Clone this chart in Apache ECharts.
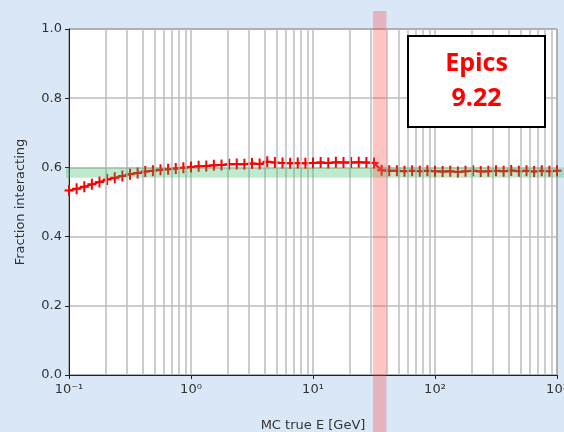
<!DOCTYPE html>
<html>
<head>
<meta charset="utf-8">
<script src="https://cdn.jsdelivr.net/npm/echarts@6/dist/echarts.min.js"></script>
<style>
  html, body { margin: 0; padding: 0; background: #d9e7f6; }
  #chart { width: 564px; height: 432px; }
</style>
</head>
<body>
<div id="chart"></div>
<script>
// energies (GeV), log-spaced bins
const energies = [
  0.1, 0.1155, 0.1334, 0.154, 0.1778, 0.2054, 0.2371, 0.2738, 0.3162, 0.3652, 0.4217, 0.487, 0.5623, 0.6494, 0.7499, 0.866,
  1, 1.155, 1.334, 1.54, 1.778, 2.054, 2.371, 2.738, 3.162, 3.652, 4.217, 4.87, 5.623, 6.494, 7.499, 8.66,
  10, 11.55, 13.34, 15.4, 17.78, 20.54, 23.71, 27.38, 31.62, 36.52, 42.17, 48.7, 56.23, 64.94, 74.99, 86.6,
  100, 115.5, 133.4, 154, 177.8, 205.4, 237.1, 273.8, 316.2, 365.2, 421.7, 487, 562.3, 649.4, 749.9, 866, 1000
];
// fraction interacting
const fractions = [
  0.533, 0.538, 0.544, 0.551, 0.558, 0.565, 0.570, 0.575, 0.580, 0.584, 0.588, 0.590, 0.593, 0.595, 0.597, 0.599,
  0.601, 0.603, 0.604, 0.606, 0.607, 0.609, 0.610, 0.609, 0.611, 0.610, 0.616, 0.614, 0.613, 0.612, 0.613, 0.612,
  0.613, 0.614, 0.613, 0.615, 0.614, 0.614, 0.615, 0.614, 0.613, 0.592, 0.590, 0.590, 0.589, 0.590, 0.589, 0.590,
  0.589, 0.588, 0.589, 0.587, 0.589, 0.590, 0.588, 0.589, 0.590, 0.589, 0.591, 0.589, 0.590, 0.588, 0.590, 0.589, 0.590
];
const xTickLabels = {0.1: '10⁻¹', 1: '10⁰', 10: '10¹', 100: '10²', 1000: '10³'};
const decades = [0.1, 1, 10, 100];
const minorSteps = [2, 3, 4, 5, 6, 7, 8, 9];
const greenBand = [0.57, 0.60];   // fraction range
const redBand = [31, 40];         // GeV range
const boxText = 'Epics\n9.22';

// minor log grid lines
let minorLines = [];
decades.forEach(function(d) {
  minorSteps.forEach(function(m) {
    minorLines.push({xAxis: +(d * m).toPrecision(3)});
  });
});

const fontFam = 'DejaVu Sans';
const gridColor = '#bdbdbd';
const plusSymbol = 'path://M-1,-5.5H1V5.5H-1ZM-4.5,-1H4.5V1H-4.5Z';

let myChart = echarts.init(document.getElementById('chart'));
let option = {
  backgroundColor: '#d9e7f6',
  animation: false,
  grid: {
    left: 69, right: 7, top: 29, bottom: 57,
    containLabel: false,
    outerBoundsMode: 'none',
    show: true, backgroundColor: '#ffffff', borderColor: '#222', borderWidth: 1
  },
  xAxis: {
    type: 'log',
    logBase: 10,
    min: 0.1,
    max: 1000,
    name: 'MC true E [GeV]',
    nameLocation: 'middle',
    nameGap: 44,
    nameTextStyle: {fontFamily: fontFam, fontSize: 13, color: '#333'},
    axisLine: {lineStyle: {color: '#222', width: 1}},
    axisTick: {show: true, length: 4, lineStyle: {color: '#222'}},
    axisLabel: {
      fontFamily: fontFam, fontSize: 13, color: '#333', margin: 8,
      formatter: function(v) { return xTickLabels[+v.toPrecision(3)] || ''; }
    },
    splitLine: {show: true, lineStyle: {color: gridColor, width: 1.5}}
  },
  yAxis: {
    type: 'value',
    min: 0,
    max: 1,
    interval: 0.2,
    name: 'Fraction interacting',
    nameLocation: 'middle',
    nameGap: 42,
    nameTextStyle: {fontFamily: fontFam, fontSize: 13, color: '#333'},
    axisLine: {show: true, lineStyle: {color: '#222', width: 1}},
    axisTick: {show: true, length: 4, lineStyle: {color: '#222'}},
    axisLabel: {
      fontFamily: fontFam, fontSize: 13, color: '#333', margin: 7,
      formatter: function(v) { return v.toFixed(1); }
    },
    splitLine: {show: true, lineStyle: {color: gridColor, width: 1.5}}
  },
  series: [
    {
      name: 'minor grid',
      type: 'line',
      data: [],
      z: 1,
      silent: true,
      markLine: {
        silent: true,
        symbol: 'none',
        label: {show: false},
        lineStyle: {color: gridColor, width: 1.5, type: 'solid'},
        data: minorLines
      }
    },
    {
      name: 'fraction',
      type: 'line',
      z: 3,
      data: energies.map(function(e, i) { return [e, fractions[i]]; }),
      showSymbol: true,
      showAllSymbol: true,
      symbol: plusSymbol,
      symbolSize: [9, 11],
      lineStyle: {color: '#ff0000', width: 2},
      itemStyle: {color: '#ff0000'}
    }
  ]
};
myChart.setOption(option);

// overlay bands and label box (drawn on top, like the slide annotations)
let gx1 = myChart.convertToPixel({xAxisIndex: 0}, redBand[0]);
let gx2 = myChart.convertToPixel({xAxisIndex: 0}, redBand[1]);
let gy1 = myChart.convertToPixel({yAxisIndex: 0}, greenBand[1]);
let gy2 = myChart.convertToPixel({yAxisIndex: 0}, greenBand[0]);
myChart.setOption({
  graphic: [
    {
      type: 'rect', z: 10, silent: true,
      shape: {x: 66, y: gy1, width: 564 - 66, height: gy2 - gy1},
      style: {fill: 'rgba(46,184,92,0.3)'}
    },
    {
      type: 'rect', z: 11, silent: true,
      shape: {x: gx1, y: 11, width: gx2 - gx1, height: 432 - 11},
      style: {fill: 'rgba(255,70,70,0.32)'}
    },
    {
      type: 'rect', z: 12, silent: true,
      shape: {x: 408, y: 36, width: 137, height: 91},
      style: {fill: '#ffffff', stroke: '#000000', lineWidth: 2}
    },
    {
      type: 'text', z: 13, silent: true,
      x: 476.5, y: 81.5,
      style: {
        text: boxText, fill: '#ff0000', fontFamily: 'Open Sans', fontWeight: 'bold',
        fontSize: 25, lineHeight: 35, align: 'center', verticalAlign: 'middle'
      }
    }
  ]
});
</script>
</body>
</html>
